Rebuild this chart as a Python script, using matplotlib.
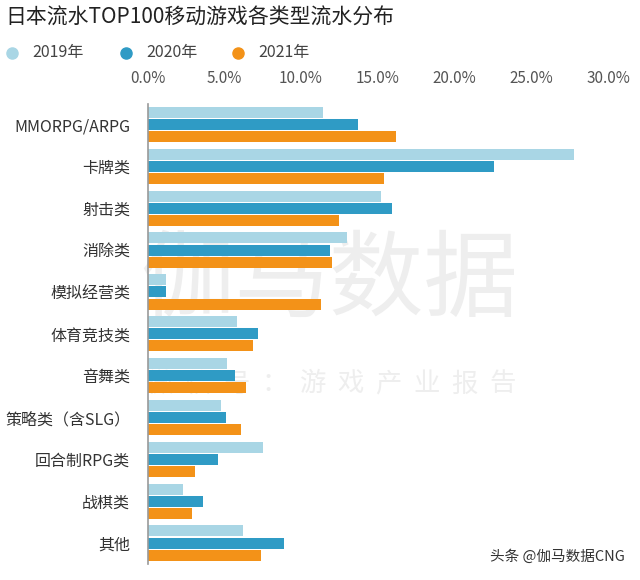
import matplotlib
matplotlib.use("Agg")
import matplotlib.pyplot as plt
from matplotlib.lines import Line2D
import numpy as np

plt.rcParams['font.family'] = ['Noto Sans CJK SC', 'DejaVu Sans']

title = "日本流水TOP100移动游戏各类型流水分布"
categories = ["MMORPG/ARPG", "卡牌类", "射击类", "消除类", "模拟经营类", "体育竞技类",
              "音舞类", "策略类（含SLG）", "回合制RPG类", "战棋类", "其他"]
years = ["2019年", "2020年", "2021年"]
v2019 = [11.4, 27.8, 15.2, 13.0, 1.2, 5.8, 5.2, 4.8, 7.5, 2.3, 6.2]
v2020 = [13.7, 22.6, 15.9, 11.9, 1.2, 7.2, 5.7, 5.1, 4.6, 3.6, 8.9]
v2021 = [16.2, 15.4, 12.5, 12.0, 11.3, 6.9, 6.4, 6.1, 3.1, 2.9, 7.4]
xticks = [0, 5, 10, 15, 20, 25, 30]
colors = ["#A9D6E5", "#2F9BC5", "#F39218"]
watermark_big = "伽马数据"
watermark_small = "微信号：游戏产业报告"

fig = plt.figure(figsize=(6.4, 5.8), dpi=100)

# watermark (behind the chart)
fig.text(0.515, 0.515, watermark_big, fontsize=68, color="#eeeeee", ha="center",
         va="center", zorder=-5)
for i, ch in zip(np.linspace(0.25, 0.785, len(watermark_small)), watermark_small):
    fig.text(i, 0.338, ch, fontsize=19, color="#eeeeee", ha="center", va="center", zorder=-5)

ax = fig.add_axes([0.2305, 0.0276, 0.7195, 0.7938])
ax.set_zorder(1)

y = np.arange(len(categories))
h = 0.265
off = 0.29
for vals, c, d in zip([v2019, v2020, v2021], colors, [-off, 0, off]):
    ax.barh(y + d, vals, height=h, color=c, zorder=2)

ax.set_ylim(len(categories) - 0.5, -0.5)
ax.set_xlim(0, 30)
ax.set_xticks(xticks)
ax.set_xticklabels([f"{t:.1f}%" for t in xticks], fontsize=11, color="#555555")
ax.xaxis.tick_top()
ax.tick_params(axis='x', length=0, pad=12)
ax.set_yticks(y)
ax.set_yticklabels(categories, fontsize=11.5, color="#333333")
ax.tick_params(axis='y', length=0, pad=12.5)
for s in ["top", "right", "bottom"]:
    ax.spines[s].set_visible(False)
ax.spines["left"].set_color("#999999")
ax.spines["left"].set_linewidth(1.2)
ax.patch.set_alpha(0)

fig.text(0.008, 0.969, title, fontsize=15, color="#222222", ha="left", va="center")

lx = [0.018, 0.197, 0.372]
for x0, c, lab in zip(lx, colors, years):
    fig.add_artist(Line2D([x0], [0.909], marker='o', markersize=8, color=c,
                          linestyle='None', transform=fig.transFigure))
    fig.text(x0 + 0.032, 0.909, lab, fontsize=11.5, color="#444444", ha="left", va="center")

fig.text(0.977, 0.04, "头条 @伽马数据CNG", fontsize=10.5, color="#333333", ha="right", va="center")

fig.savefig("out.png", dpi=100)
